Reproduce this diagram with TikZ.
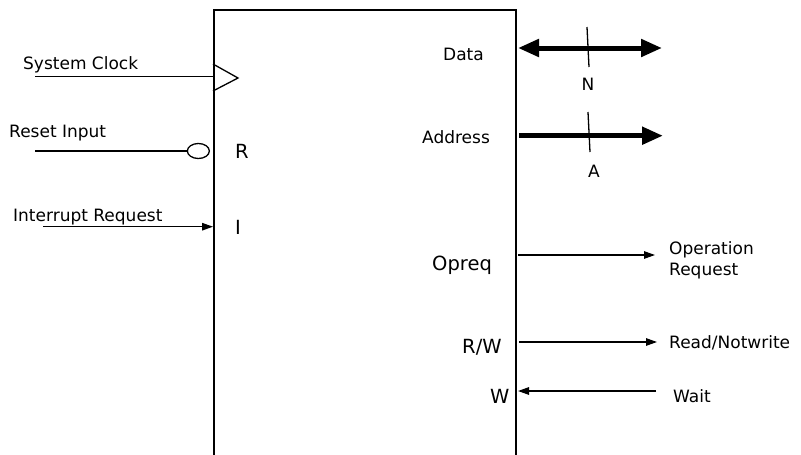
\documentclass[tikz,border=0pt]{standalone}
\usepackage{fontspec}
\setmainfont{DejaVu Sans}
\usetikzlibrary{arrows.meta,shapes.geometric}
\begin{document}
\begin{tikzpicture}[x=1pt,y=-1pt,
  lbl/.style={inner sep=0pt,anchor=base west,font=\fontsize{17}{20}\selectfont},
  big/.style={inner sep=0pt,anchor=base west,font=\fontsize{19.5}{22}\selectfont},
  wire/.style={line width=1.3pt},
  sig/.style={line width=1.3pt,-{Triangle[length=11pt,width=7.5pt]}},
  bus/.style={line width=5pt,-{Triangle[length=21pt,width=17pt]}},
  bibus/.style={line width=5pt,{Triangle[length=21pt,width=17pt]}-{Triangle[length=21pt,width=17pt]}},
  tick/.style={line width=1.3pt}]
\useasboundingbox (0,0) rectangle (801,455);
\clip (0,0) rectangle (801,455);
% chip body (continues below the picture)
\node[draw,line width=1.5pt,minimum width=302pt,minimum height=480pt,anchor=north west,inner sep=0pt] (chip) at (213,9) {};
% port points on the chip
\coordinate (pclk) at (213,76.7);
\coordinate (prst) at (210,151);
\coordinate (pint) at (213,226.7);
\coordinate (pdata) at (518,48);
\coordinate (paddr) at (519,135.7);
\coordinate (popr) at (518,255);
\coordinate (prw) at (519,342);
\coordinate (pwait) at (518,391);
% free ends
\coordinate (eclk) at (35,76.7);
\coordinate (erst) at (35,151);
\coordinate (eint) at (43,226.7);
\coordinate (edata) at (662,48);
\coordinate (eaddr) at (663,135.7);
\coordinate (eopr) at (655,255);
\coordinate (erw) at (657,342);
\coordinate (ewait) at (656,391);
% clock triangle
\coordinate (t1) at (213,64);
\coordinate (t2) at (238,78);
\coordinate (t3) at (213,91);
\draw[wire] (t1) -- (t2) -- (t3);
% reset bubble
\node[draw,line width=1.3pt,ellipse,minimum width=22pt,minimum height=15pt,inner sep=0pt,anchor=east] (bubble) at (prst) {};
% left signals
\draw[wire] (eclk) -- (pclk);
\draw[wire] (erst) -- (bubble.west);
\draw[sig] (eint) -- (pint);
% left labels
\node[lbl] (lclk) at (23,69) {System Clock};
\node[lbl] (lrst) at (9,137) {Reset Input};
\node[lbl] (lint) at (13,221) {Interrupt Request};
\node[big] (lR) at (235,158) {R};
\node[big] (lI) at (235,234) {I};
% buses
\draw[bibus] (pdata) -- (edata);
\draw[bus] (paddr) -- (eaddr);
\coordinate (nt) at (587,27);
\coordinate (nb) at (589,67);
\coordinate (at) at (588,112);
\coordinate (ab) at (590,152);
\draw[tick] (nt) -- (nb);
\draw[tick] (at) -- (ab);
\node[lbl,anchor=base] (lN) at (588,90) {N};
\node[lbl,anchor=base] (lA) at (594,177) {A};
\node[lbl] (ldata) at (443,60) {Data};
\node[lbl] (laddr) at (422,143) {Address};
% right signals
\draw[sig] (popr) -- (eopr);
\draw[sig] (prw) -- (erw);
\draw[sig] (ewait) -- (pwait);
\node[big] (lopr) at (432,270) {Opreq};
\node[big] (lrw) at (462,353) {R/W};
\node[big] (lw) at (490,403) {W};
\node[lbl] (lop1) at (669,254) {Operation};
\node[lbl] (lop2) at (669,275) {Request};
\node[lbl] (lrnw) at (669,348) {Read/Notwrite};
\node[lbl] (lwait) at (673,402) {Wait};
\end{tikzpicture}
\end{document}
